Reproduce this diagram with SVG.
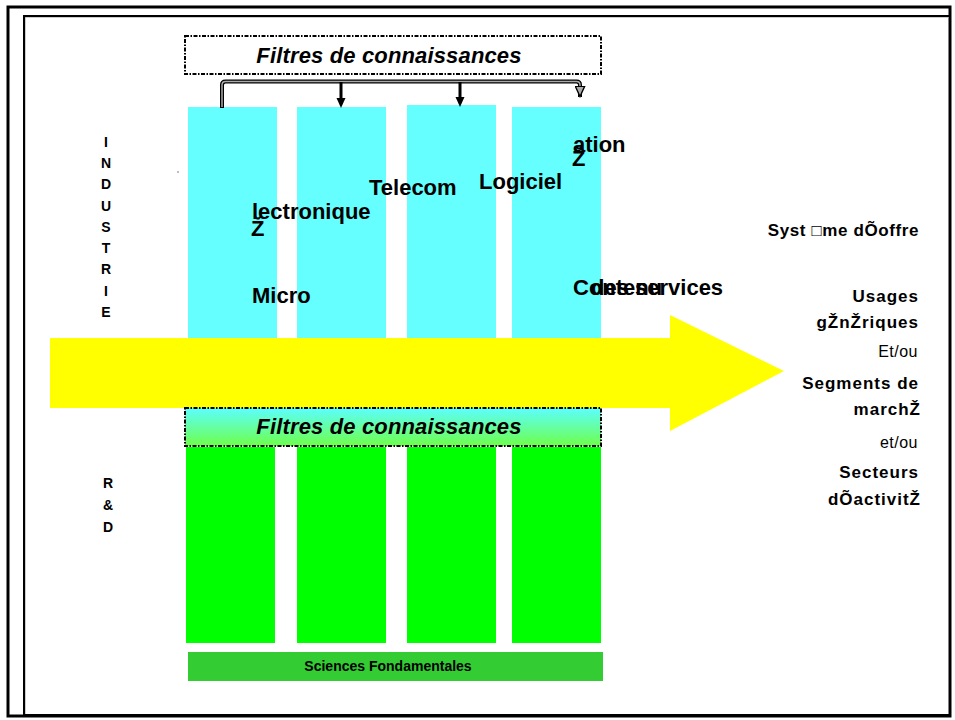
<svg xmlns="http://www.w3.org/2000/svg" width="955" height="720" viewBox="0 0 955 720">
<defs>
<linearGradient id="fg" x1="0" y1="0" x2="0" y2="1">
<stop offset="0" stop-color="#5CFFFF"/>
<stop offset="1" stop-color="#6EFF4A"/>
</linearGradient>
<marker id="ah2" markerWidth="11" markerHeight="12" refX="5.5" refY="11.5" markerUnits="userSpaceOnUse" viewBox="0 0 11 12">
<path d="M0.8,0.8 L10.2,0.8 L5.5,11 Z" fill="#AAA" stroke="#000" stroke-width="1.4"/>
</marker>
</defs>
<style>
.frame{fill:none;stroke:#000;stroke-width:3}
.cyan{fill:#66FFFF}
.green{fill:#00FF00}
.filt{stroke:#000;stroke-width:2;stroke-dasharray:4 1.5 1.5 1.5}
.ft{font-family:"Liberation Sans",Arial,sans-serif;font-weight:bold;font-style:italic;font-size:22px;text-anchor:middle;letter-spacing:0.15px;fill:#000}
.col{font-family:"Liberation Sans",Arial,sans-serif;font-weight:bold;font-size:22px;fill:#000}
.side{font-family:"Liberation Sans",Arial,sans-serif;font-weight:bold;font-size:14px;text-anchor:middle;fill:#000}
.rb{font-family:"Liberation Sans",Arial,sans-serif;font-weight:bold;font-size:17px;text-anchor:end;letter-spacing:1px;fill:#000}
.rr{font-family:"Liberation Sans",Arial,sans-serif;font-size:16px;text-anchor:end;letter-spacing:0.5px;fill:#000}
.sf{font-family:"Liberation Sans",Arial,sans-serif;font-weight:bold;font-size:14px;text-anchor:middle;fill:#000}
</style>
<rect x="0" y="0" width="955" height="720" fill="#fff"/>
<g id="frame">
<rect class="frame" x="8" y="7" width="942" height="709"/>
<path d="M25,714 V17 H949" fill="none" stroke="#999" stroke-width="1"/>
<rect x="24" y="16" width="926" height="699" fill="none" stroke="#000" stroke-width="2"/>
</g>
<g id="columns-industrie">
<rect class="cyan" x="188" y="107" width="89" height="232"/>
<rect class="cyan" x="297" y="107" width="89" height="232"/>
<rect class="cyan" x="407" y="105" width="89" height="234"/>
<rect class="cyan" x="512" y="107" width="89" height="232"/>
</g>
<g id="columns-rd">
<rect class="green" x="186" y="447" width="89" height="196"/>
<rect class="green" x="297" y="447" width="89" height="196"/>
<rect class="green" x="407" y="447" width="89" height="196"/>
<rect class="green" x="512" y="447" width="89" height="196"/>
</g>
<g id="fleche">
<path d="M50,338 H670 V315 L784,371 L670,431 V408 H50 Z" fill="#FFFF00"/>
</g>
<g id="filtre-haut">
<rect class="filt" x="185" y="36" width="416" height="38" fill="#fff"/>
<text class="ft" x="389" y="63">Filtres de connaissances</text>
</g>
<g id="filtre-bas">
<rect class="filt" x="185" y="408" width="416" height="38" fill="url(#fg)"/>
<text class="ft" x="389" y="434">Filtres de connaissances</text>
</g>
<g id="connecteurs">
<path d="M222,108 V85 Q222,81.5 225.5,81.5 H576.5 Q580,81.5 580,85 V97" fill="none" stroke="#000" stroke-width="4"/>
<path d="M222,107 V85 Q222,81.5 225.5,81.5 H576.5 Q580,81.5 580,85 V97" fill="none" stroke="#AAA" stroke-width="1.5"/>
<path d="M580,95 V97" fill="none" stroke="none" marker-end="url(#ah2)"/>
<line x1="341" y1="82" x2="341" y2="98" stroke="#000" stroke-width="3"/>
<path d="M336.5,98 H345.5 L341,108 Z" fill="#000"/>
<line x1="460" y1="82" x2="460" y2="97" stroke="#000" stroke-width="3"/>
<path d="M455.5,97 H464.5 L460,107 Z" fill="#000"/>
</g>
<g id="labels-colonnes">
<text class="col" x="252" y="219">lectronique</text>
<text class="col" x="251" y="236">Ž</text>
<text class="col" x="252" y="303">Micro</text>
<text class="col" x="369" y="195">Telecom</text>
<text class="col" x="479" y="189">Logiciel</text>
<text class="col" x="573" y="152">ation</text>
<text class="col" x="572" y="166">Ž</text>
<text class="col" x="573" y="295">Contenu</text>
<text class="col" x="591" y="295">des services</text>
</g>
<g id="industrie">
<text class="side" x="106" y="147">I</text>
<text class="side" x="106" y="168">N</text>
<text class="side" x="106" y="189">D</text>
<text class="side" x="106" y="211">U</text>
<text class="side" x="106" y="232">S</text>
<text class="side" x="106" y="253">T</text>
<text class="side" x="106" y="274">R</text>
<text class="side" x="106" y="296">I</text>
<text class="side" x="106" y="317">E</text>
<rect x="177.5" y="171.5" width="1" height="1" fill="#000"/>
</g>
<g id="rd">
<text class="side" x="108" y="488">R</text>
<text class="side" x="108" y="510">&amp;</text>
<text class="side" x="108" y="532">D</text>
</g>
<g id="sciences">
<rect x="188" y="652" width="415" height="29" fill="#33CC33"/>
<text class="sf" x="388" y="671">Sciences Fondamentales</text>
</g>
<g id="offre">
<text class="rb" x="919" y="236" style="letter-spacing:0.6px">Syst □me dÕoffre</text>
<text class="rb" x="919" y="302">Usages</text>
<text class="rb" x="919" y="328">gŽnŽriques</text>
<text class="rr" x="918" y="357">Et/ou</text>
<text class="rb" x="919" y="389">Segments de</text>
<text class="rb" x="921" y="415">marchŽ</text>
<text class="rr" x="918" y="448">et/ou</text>
<text class="rb" x="919" y="478">Secteurs</text>
<text class="rb" x="921" y="505">dÕactivitŽ</text>
</g>
</svg>
